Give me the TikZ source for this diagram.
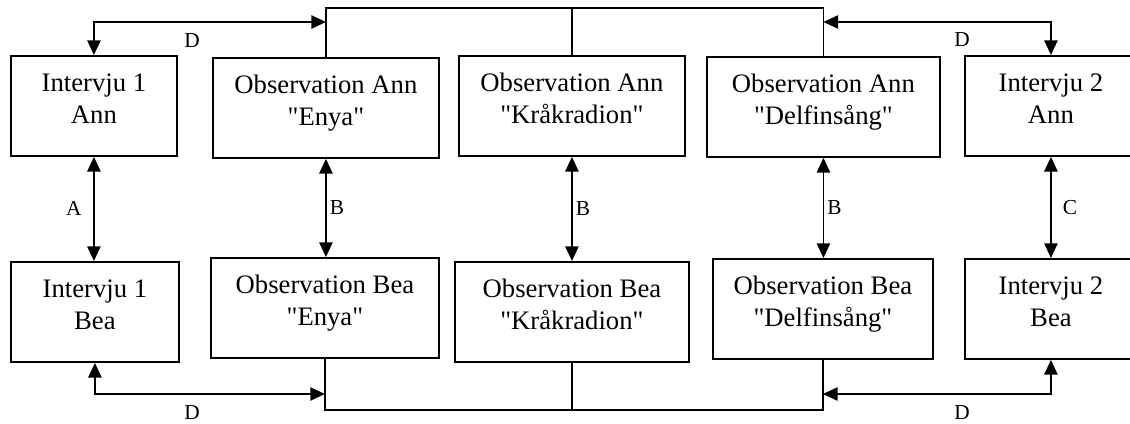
\documentclass[tikz,border=0pt]{standalone}
\usepackage{fontspec}
\setmainfont{Liberation Serif}
\usetikzlibrary{arrows.meta}
\begin{document}
\begin{tikzpicture}[
		x=0.75pt, y=-0.75pt,
		box/.style={draw, line width=1.4pt, anchor=north west, align=center,
			inner sep=0pt, text height=50.7pt, text depth=24.3pt,
			font=\fontsize{20}{24}\selectfont},
		lbl/.style={font=\fontsize{16}{18}\selectfont},
		link/.style={line width=1.1pt},
		>={Triangle[width=10pt,length=11pt]}
	]
	\clip (0,0) rectangle (1130,424);
	% top row
	\node[box, minimum width=166*0.75pt] (ia1) at (10,55) {Intervju 1\\Ann};
	\node[box, minimum width=226*0.75pt] (oae) at (212,57) {Observation Ann\\\textquotedbl Enya\textquotedbl};
	\node[box, minimum width=226*0.75pt] (oak) at (458,55) {Observation Ann\\\textquotedbl Kråkradion\textquotedbl};
	\node[box, minimum width=233*0.75pt] (oad) at (706,56) {Observation Ann\\\textquotedbl Delfinsång\textquotedbl};
	\node[box, minimum width=172*0.75pt] (ia2) at (964,55) {Intervju 2\\Ann};
	% bottom row
	\node[box, minimum width=168*0.75pt] (ib1) at (10,261) {Intervju 1\\Bea};
	\node[box, minimum width=228*0.75pt] (obe) at (210,257) {Observation Bea\\\textquotedbl Enya\textquotedbl};
	\node[box, minimum width=234*0.75pt] (obk) at (454,261) {Observation Bea\\\textquotedbl Kråkradion\textquotedbl};
	\node[box, minimum width=220*0.75pt] (obd) at (712,258) {Observation Bea\\\textquotedbl Delfinsång\textquotedbl};
	\node[box, minimum width=172*0.75pt] (ib2) at (964,258) {Intervju 2\\Bea};

	\coordinate (tbus) at (0,8);
	\coordinate (tarr) at (0,22);
	\coordinate (bbus) at (0,410);
	\coordinate (barr) at (0,394);

	% bus lines
	\draw[link] (oae.north) |- (oad.north |- tbus) -- (oad.north);
	\draw[link] (oak.north) -- (oak.north |- tbus);
	\draw[link] (obe.south) |- (obd.south |- bbus) -- (obd.south);
	\draw[link] (obk.south) -- (obk.south |- bbus);

	% D links
	\draw[link, <->] (ia1.north) |- (oae.north |- tarr);
	\draw[link, <->] (oad.north |- tarr) -| (ia2.north);
	\draw[link, <->] (ib1.south) |- (obe.south |- barr);
	\draw[link, <->] (obd.south |- barr) -| (ib2.south);
	\node[lbl] (d1) at (192,41) {D};
	\node[lbl] (d2) at (962,40) {D};
	\node[lbl] (d3) at (192,413) {D};
	\node[lbl] (d4) at (962,413) {D};

	% pairs
	\draw[link, <->] (ia1.south) -- (ia1.south |- ib1.north) node[lbl, midway, left=5.4pt] {A};
	\draw[link, <->] (oae.south) -- (oae.south |- obe.north) node[lbl, midway, right=-1pt] {B};
	\draw[link, <->] (oak.south) -- (oak.south |- obk.north) node[lbl, midway, right=-1pt] {B};
	\draw[link, <->] (oad.south) -- (oad.south |- obd.north) node[lbl, midway, right=-1pt] {B};
	\draw[link, <->] (ia2.south) -- (ia2.south |- ib2.north) node[lbl, midway, right=5pt] {C};
\end{tikzpicture}
\end{document}
